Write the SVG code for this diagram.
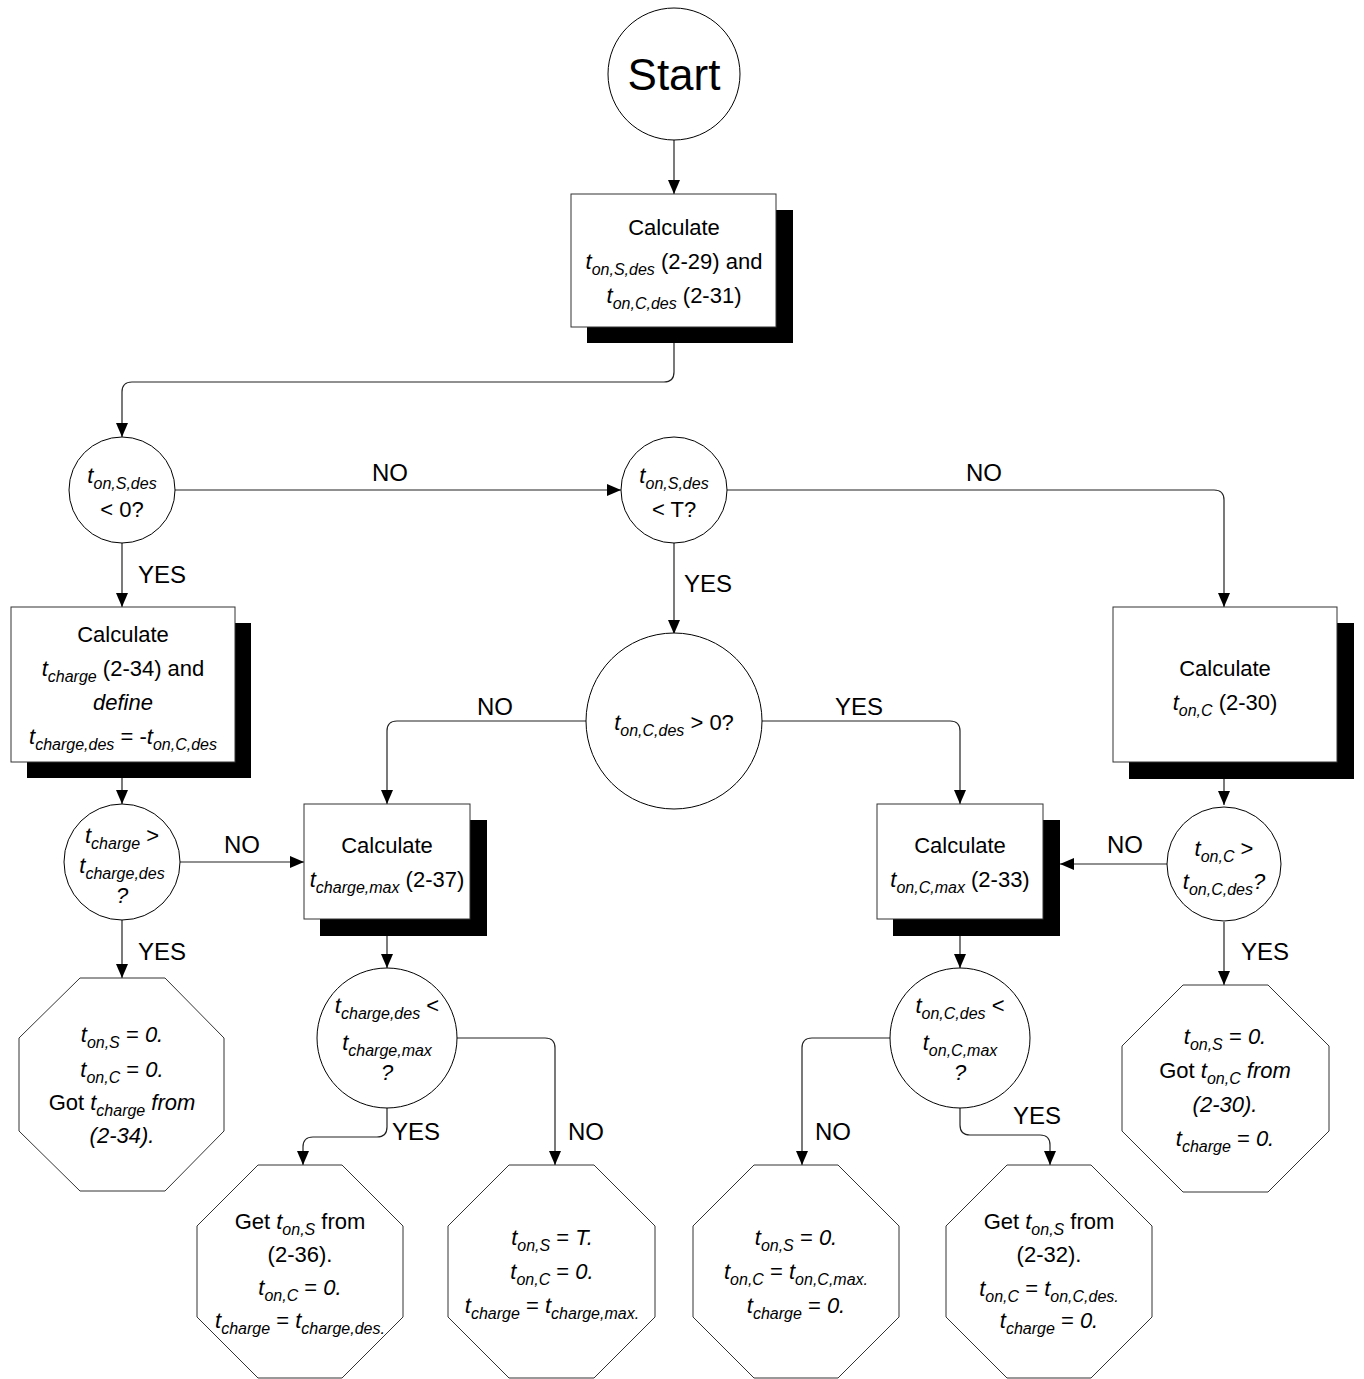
<svg xmlns="http://www.w3.org/2000/svg" width="1364" height="1379" viewBox="0 0 1364 1379">
<style>
.bg{fill:#fff}
.shadow{fill:#000}
.box{fill:#fff;stroke:#333;stroke-width:1}
.circ{fill:#fff;stroke:#000;stroke-width:1}
.oct{fill:#fff;stroke:#333;stroke-width:1}
.con{fill:none;stroke:#222;stroke-width:1.2}
.t{font-family:"Liberation Sans",Arial,sans-serif;font-size:22px;fill:#000;text-anchor:middle}
.lbl{font-family:"Liberation Sans",Arial,sans-serif;font-size:24px;fill:#000;text-anchor:middle}
.i{font-style:italic}
.s{font-size:16px;font-style:italic}
</style>
<defs>
<marker id="arr" markerWidth="14" markerHeight="12" refX="14" refY="6" orient="auto" markerUnits="userSpaceOnUse">
<path d="M0,0 L14,6 L0,12 Z" fill="#000"/>
</marker>
</defs>
<rect class="bg" x="0" y="0" width="1364" height="1379"/>

<g id="connectors">
<path class="con" d="M674,140 V194" marker-end="url(#arr)"/>
<path class="con" d="M674,343 V372 Q674,382 664,382 H132 Q122,382 122,392 V437" marker-end="url(#arr)"/>
<path class="con" d="M175,490 H621" marker-end="url(#arr)"/>
<path class="con" d="M727,490 H1214 Q1224,490 1224,500 V607" marker-end="url(#arr)"/>
<path class="con" d="M674,543 V634" marker-end="url(#arr)"/>
<path class="con" d="M586,721 H397 Q387,721 387,731 V804" marker-end="url(#arr)"/>
<path class="con" d="M762,721 H950 Q960,721 960,731 V804" marker-end="url(#arr)"/>
<path class="con" d="M122,543 V607" marker-end="url(#arr)"/>
<path class="con" d="M122,778 V804" marker-end="url(#arr)"/>
<path class="con" d="M180,862 H304" marker-end="url(#arr)"/>
<path class="con" d="M122,920 V978" marker-end="url(#arr)"/>
<path class="con" d="M387,936 V968" marker-end="url(#arr)"/>
<path class="con" d="M387,1108 V1127 Q387,1137 377,1137 H313 Q303,1137 303,1147 V1165" marker-end="url(#arr)"/>
<path class="con" d="M457,1038 H545 Q555,1038 555,1048 V1165" marker-end="url(#arr)"/>
<path class="con" d="M1224,779 V805" marker-end="url(#arr)"/>
<path class="con" d="M1167,864 H1060" marker-end="url(#arr)"/>
<path class="con" d="M1224,922 V985" marker-end="url(#arr)"/>
<path class="con" d="M960,936 V968" marker-end="url(#arr)"/>
<path class="con" d="M890,1038 H812 Q802,1038 802,1048 V1165" marker-end="url(#arr)"/>
<path class="con" d="M960,1108 V1125 Q960,1135 970,1135 H1040 Q1050,1135 1050,1145 V1165" marker-end="url(#arr)"/>
<text class="lbl" x="390" y="481">NO</text>
<text class="lbl" x="984" y="481">NO</text>
<text class="lbl" x="708" y="592">YES</text>
<text class="lbl" x="495" y="715">NO</text>
<text class="lbl" x="859" y="715">YES</text>
<text class="lbl" x="162" y="583">YES</text>
<text class="lbl" x="242" y="853">NO</text>
<text class="lbl" x="162" y="960">YES</text>
<text class="lbl" x="1125" y="853">NO</text>
<text class="lbl" x="1265" y="960">YES</text>
<text class="lbl" x="416" y="1140">YES</text>
<text class="lbl" x="586" y="1140">NO</text>
<text class="lbl" x="833" y="1140">NO</text>
<text class="lbl" x="1037" y="1124">YES</text>
</g>

<g id="start">
<circle class="circ" cx="674" cy="74" r="66"/>
<text class="t" x="674" y="90" style="font-size:44px">Start</text>
</g>

<g id="calc-des">
<rect class="shadow" x="587" y="210" width="206" height="133"/>
<rect class="box" x="571" y="194" width="205" height="133"/>
<text class="t" x="674" y="235">Calculate</text>
<text class="t" x="674" y="269"><tspan class="i">t</tspan><tspan class="s" dy="6">on,S,des</tspan><tspan dy="-6"> (2-29) and</tspan></text>
<text class="t" x="674" y="303"><tspan class="i">t</tspan><tspan class="s" dy="6">on,C,des</tspan><tspan dy="-6"> (2-31)</tspan></text>
</g>

<g id="d-tons-lt0">
<circle class="circ" cx="122" cy="490" r="53"/>
<text class="t" x="122" y="483"><tspan class="i">t</tspan><tspan class="s" dy="6">on,S,des</tspan></text>
<text class="t" x="122" y="517">&lt; 0?</text>
</g>

<g id="d-tons-ltT">
<circle class="circ" cx="674" cy="490" r="53"/>
<text class="t" x="674" y="483"><tspan class="i">t</tspan><tspan class="s" dy="6">on,S,des</tspan></text>
<text class="t" x="674" y="517">&lt; T?</text>
</g>

<g id="d-tonc-gt0">
<circle class="circ" cx="674" cy="721" r="88"/>
<text class="t" x="674" y="730"><tspan class="i">t</tspan><tspan class="s" dy="6">on,C,des</tspan><tspan dy="-6"> &gt; 0?</tspan></text>
</g>

<g id="calc-charge">
<rect class="shadow" x="27" y="623" width="224" height="155"/>
<rect class="box" x="11" y="607" width="224" height="155"/>
<text class="t" x="123" y="642">Calculate</text>
<text class="t" x="123" y="676"><tspan class="i">t</tspan><tspan class="s" dy="6">charge</tspan><tspan dy="-6"> (2-34) and</tspan></text>
<text class="t i" x="123" y="710">define</text>
<text class="t" x="123" y="744"><tspan class="i">t</tspan><tspan class="s" dy="6">charge,des</tspan><tspan dy="-6"> = -</tspan><tspan class="i">t</tspan><tspan class="s" dy="6">on,C,des</tspan></text>
</g>

<g id="d-charge-gt">
<circle class="circ" cx="122" cy="862" r="58"/>
<text class="t" x="122" y="843"><tspan class="i">t</tspan><tspan class="s" dy="6">charge</tspan><tspan dy="-6"> &gt;</tspan></text>
<text class="t" x="122" y="873"><tspan class="i">t</tspan><tspan class="s" dy="6">charge,des</tspan></text>
<text class="t i" x="122" y="903">?</text>
</g>

<g id="end-1">
<polygon class="oct" points="80,978 165,978 224,1038 224,1131 165,1191 80,1191 19,1131 19,1038"/>
<text class="t" x="122" y="1042"><tspan class="i">t</tspan><tspan class="s" dy="6">on,S</tspan><tspan dy="-6"> = </tspan><tspan class="i">0.</tspan></text>
<text class="t" x="122" y="1077"><tspan class="i">t</tspan><tspan class="s" dy="6">on,C</tspan><tspan dy="-6"> = </tspan><tspan class="i">0.</tspan></text>
<text class="t" x="122" y="1110">Got <tspan class="i">t</tspan><tspan class="s" dy="6">charge</tspan><tspan class="i" dy="-6"> from</tspan></text>
<text class="t i" x="122" y="1143">(2-34).</text>
</g>

<g id="calc-charge-max">
<rect class="shadow" x="320" y="820" width="167" height="116"/>
<rect class="box" x="304" y="804" width="166" height="115"/>
<text class="t" x="387" y="853">Calculate</text>
<text class="t" x="387" y="887"><tspan class="i">t</tspan><tspan class="s" dy="6">charge,max</tspan><tspan dy="-6"> (2-37)</tspan></text>
</g>

<g id="d-charge-lt">
<circle class="circ" cx="387" cy="1038" r="70"/>
<text class="t" x="387" y="1013"><tspan class="i">t</tspan><tspan class="s" dy="6">charge,des</tspan><tspan dy="-6"> &lt;</tspan></text>
<text class="t" x="387" y="1050"><tspan class="i">t</tspan><tspan class="s" dy="6">charge,max</tspan></text>
<text class="t i" x="387" y="1080">?</text>
</g>

<g id="end-2">
<polygon class="oct" points="258,1165 342,1165 403,1226 403,1317 342,1378 258,1378 197,1317 197,1226"/>
<text class="t" x="300" y="1229">Get <tspan class="i">t</tspan><tspan class="s" dy="6">on,S</tspan><tspan dy="-6"> from</tspan></text>
<text class="t" x="300" y="1262">(2-36).</text>
<text class="t" x="300" y="1295"><tspan class="i">t</tspan><tspan class="s" dy="6">on,C</tspan><tspan dy="-6"> = </tspan><tspan class="i">0.</tspan></text>
<text class="t" x="300" y="1328"><tspan class="i">t</tspan><tspan class="s" dy="6">charge</tspan><tspan dy="-6"> = </tspan><tspan class="i">t</tspan><tspan class="s" dy="6">charge,des.</tspan></text>
</g>

<g id="end-3">
<polygon class="oct" points="509,1165 594,1165 655,1226 655,1317 594,1378 509,1378 448,1317 448,1226"/>
<text class="t" x="552" y="1245"><tspan class="i">t</tspan><tspan class="s" dy="6">on,S</tspan><tspan dy="-6"> = </tspan><tspan class="i">T.</tspan></text>
<text class="t" x="552" y="1279"><tspan class="i">t</tspan><tspan class="s" dy="6">on,C</tspan><tspan dy="-6"> = </tspan><tspan class="i">0.</tspan></text>
<text class="t" x="552" y="1313"><tspan class="i">t</tspan><tspan class="s" dy="6">charge</tspan><tspan dy="-6"> = </tspan><tspan class="i">t</tspan><tspan class="s" dy="6">charge,max.</tspan></text>
</g>

<g id="calc-tonc">
<rect class="shadow" x="1129" y="623" width="225" height="156"/>
<rect class="box" x="1113" y="607" width="224" height="155"/>
<text class="t" x="1225" y="676">Calculate</text>
<text class="t" x="1225" y="710"><tspan class="i">t</tspan><tspan class="s" dy="6">on,C</tspan><tspan dy="-6"> (2-30)</tspan></text>
</g>

<g id="d-tonc-gt">
<circle class="circ" cx="1224" cy="864" r="57"/>
<text class="t" x="1224" y="856"><tspan class="i">t</tspan><tspan class="s" dy="6">on,C</tspan><tspan dy="-6"> &gt;</tspan></text>
<text class="t" x="1224" y="889"><tspan class="i">t</tspan><tspan class="s" dy="6">on,C,des</tspan><tspan class="i" dy="-6">?</tspan></text>
</g>

<g id="end-6">
<polygon class="oct" points="1183,985 1268,985 1329,1046 1329,1131 1268,1192 1183,1192 1122,1131 1122,1046"/>
<text class="t" x="1225" y="1044"><tspan class="i">t</tspan><tspan class="s" dy="6">on,S</tspan><tspan dy="-6"> = </tspan><tspan class="i">0.</tspan></text>
<text class="t" x="1225" y="1078">Got <tspan class="i">t</tspan><tspan class="s" dy="6">on,C</tspan><tspan class="i" dy="-6"> from</tspan></text>
<text class="t i" x="1225" y="1112">(2-30).</text>
<text class="t" x="1225" y="1146"><tspan class="i">t</tspan><tspan class="s" dy="6">charge</tspan><tspan dy="-6"> = </tspan><tspan class="i">0.</tspan></text>
</g>

<g id="calc-tonc-max">
<rect class="shadow" x="893" y="820" width="167" height="116"/>
<rect class="box" x="877" y="804" width="166" height="115"/>
<text class="t" x="960" y="853">Calculate</text>
<text class="t" x="960" y="887"><tspan class="i">t</tspan><tspan class="s" dy="6">on,C,max</tspan><tspan dy="-6"> (2-33)</tspan></text>
</g>

<g id="d-tonc-lt">
<circle class="circ" cx="960" cy="1038" r="70"/>
<text class="t" x="960" y="1013"><tspan class="i">t</tspan><tspan class="s" dy="6">on,C,des</tspan><tspan dy="-6"> &lt;</tspan></text>
<text class="t" x="960" y="1050"><tspan class="i">t</tspan><tspan class="s" dy="6">on,C,max</tspan></text>
<text class="t i" x="960" y="1080">?</text>
</g>

<g id="end-4">
<polygon class="oct" points="754,1165 838,1165 899,1226 899,1317 838,1378 754,1378 693,1317 693,1226"/>
<text class="t" x="796" y="1245"><tspan class="i">t</tspan><tspan class="s" dy="6">on,S</tspan><tspan dy="-6"> = </tspan><tspan class="i">0.</tspan></text>
<text class="t" x="796" y="1279"><tspan class="i">t</tspan><tspan class="s" dy="6">on,C</tspan><tspan dy="-6"> = </tspan><tspan class="i">t</tspan><tspan class="s" dy="6">on,C,max.</tspan></text>
<text class="t" x="796" y="1313"><tspan class="i">t</tspan><tspan class="s" dy="6">charge</tspan><tspan dy="-6"> = </tspan><tspan class="i">0.</tspan></text>
</g>

<g id="end-5">
<polygon class="oct" points="1007,1165 1091,1165 1152,1226 1152,1317 1091,1378 1007,1378 946,1317 946,1226"/>
<text class="t" x="1049" y="1229">Get <tspan class="i">t</tspan><tspan class="s" dy="6">on,S</tspan><tspan dy="-6"> from</tspan></text>
<text class="t" x="1049" y="1262">(2-32).</text>
<text class="t" x="1049" y="1296"><tspan class="i">t</tspan><tspan class="s" dy="6">on,C</tspan><tspan dy="-6"> = </tspan><tspan class="i">t</tspan><tspan class="s" dy="6">on,C,des.</tspan></text>
<text class="t" x="1049" y="1328"><tspan class="i">t</tspan><tspan class="s" dy="6">charge</tspan><tspan dy="-6"> = </tspan><tspan class="i">0.</tspan></text>
</g>
</svg>
